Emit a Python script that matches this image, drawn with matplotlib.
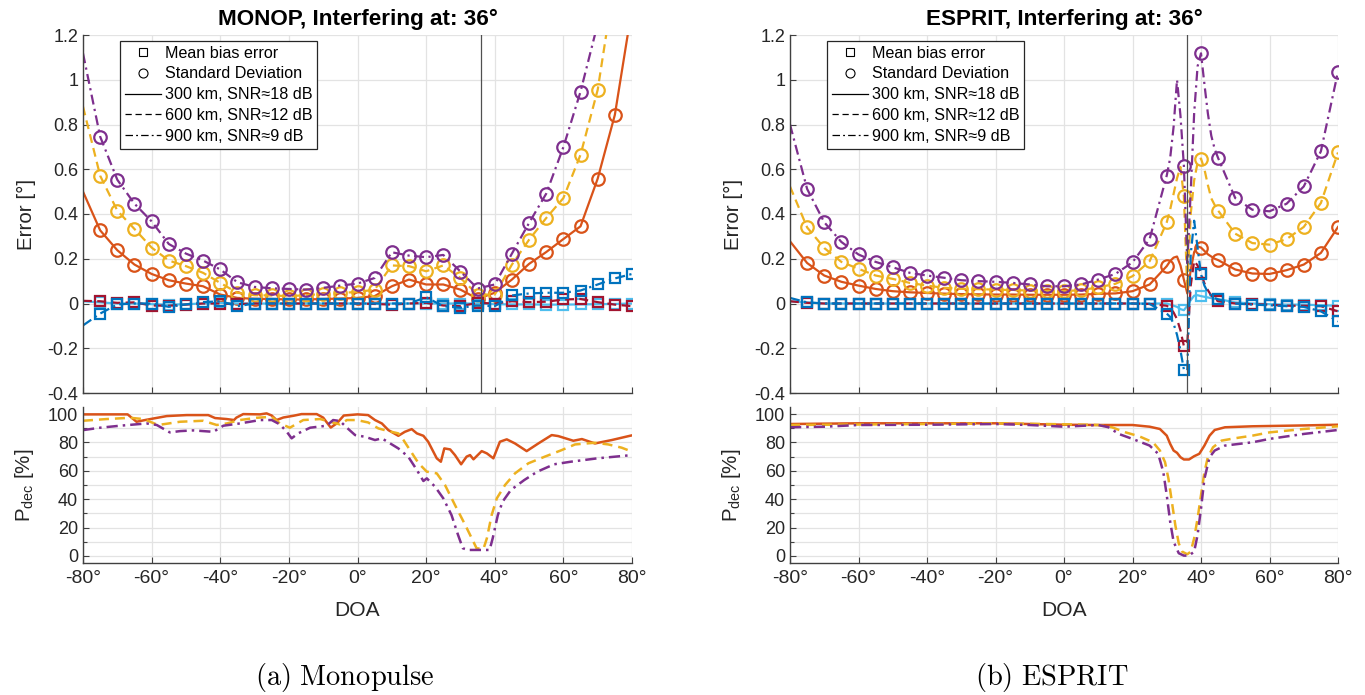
import numpy as np
import matplotlib
matplotlib.use('Agg')
import matplotlib.pyplot as plt
from matplotlib.lines import Line2D
from matplotlib.ticker import MultipleLocator

plt.rcParams['font.family'] = ['Liberation Sans', 'DejaVu Sans']
plt.rcParams['mathtext.fontset'] = 'custom'
plt.rcParams['mathtext.rm'] = 'Liberation Sans'
plt.rcParams['mathtext.it'] = 'Liberation Sans:italic'

# ---------------- data ----------------
interferer_deg = 36
labels_dist = ['300 km, SNR\u224818 dB', '600 km, SNR\u224812 dB', '900 km, SNR\u22489 dB']

# MONOP (top) : DOA grid
mono_doa = np.arange(-80, 81, 5)
mono_std_300 = [0.50, 0.327, 0.238, 0.174, 0.132, 0.104, 0.089, 0.077, 0.040, 0.025, 0.021, 0.020, 0.018,
                0.018, 0.020, 0.022, 0.025, 0.033, 0.077, 0.107, 0.085, 0.085, 0.062, 0.021, 0.048, 0.107,
                0.177, 0.230, 0.288, 0.345, 0.558, 0.843, 1.32]
mono_std_600 = [0.88, 0.571, 0.415, 0.333, 0.250, 0.192, 0.167, 0.137, 0.092, 0.048, 0.037, 0.036, 0.033,
                0.037, 0.043, 0.048, 0.051, 0.062, 0.170, 0.167, 0.144, 0.170, 0.114, 0.040, 0.040, 0.174,
                0.285, 0.382, 0.471, 0.665, 0.955, 1.45, 2.0]
mono_std_900 = [1.118, 0.746, 0.553, 0.446, 0.367, 0.266, 0.223, 0.192, 0.152, 0.095, 0.074, 0.068, 0.065,
                0.062, 0.070, 0.080, 0.089, 0.114, 0.229, 0.214, 0.207, 0.217, 0.143, 0.067, 0.085, 0.223,
                0.360, 0.491, 0.699, 0.947, 1.25, 1.75, 2.3]
mono_bias_300 = [0.010, 0.005, 0.0, 0.0, -0.003, -0.005, -0.003, 0.0, 0.003, 0.0, 0.0, 0.0, 0.0,
                 0.0, 0.0, 0.0, 0.0, 0.0, 0.0, 0.0, 0.0, 0.0, 0.0, 0.0, -0.003, -0.004,
                 -0.004, -0.005, -0.005, -0.004, -0.003, -0.002, 0.0]
mono_bias_600 = [0.012, 0.010, 0.003, 0.005, -0.009, -0.010, -0.005, 0.0, 0.0, -0.003, 0.0, 0.0, 0.0,
                 0.0, 0.0, 0.0, 0.0, -0.002, -0.005, 0.0, 0.003, -0.009, -0.012, 0.003, 0.0, 0.010,
                 0.006, 0.008, 0.018, 0.020, 0.006, -0.005, -0.012]
mono_bias_900 = [-0.098, -0.045, -0.004, 0.0, 0.0, -0.015, -0.004, 0.006, 0.010, -0.012, 0.0, 0.0, 0.0,
                 0.0, 0.0, 0.0, 0.0, 0.0, 0.0, 0.0, 0.028, -0.012, -0.019, -0.009, -0.012, 0.036,
                 0.045, 0.048, 0.048, 0.058, 0.085, 0.112, 0.132]

# ESPRIT (top) : DOA grid (finer near the interferer)
esp_doa = np.array([-80, -75, -70, -65, -60, -55, -50, -45, -40, -35, -30, -25, -20, -15, -10, -5, 0, 5,
                    10, 15, 20, 25, 30, 31, 32, 33, 34, 35, 36, 37, 38, 39, 40, 41, 42, 43, 44, 45,
                    50, 55, 60, 65, 70, 75, 80])
esp_std_300 = [0.278, 0.181, 0.125, 0.097, 0.080, 0.065, 0.055, 0.050, 0.047, 0.044, 0.042, 0.041, 0.040,
               0.040, 0.039, 0.039, 0.039, 0.040, 0.043, 0.045, 0.055, 0.085,
               0.167, 0.19, 0.205, 0.21, 0.17, 0.107, 0.045, 0.15, 0.23, 0.255, 0.25, 0.235, 0.22, 0.21,
               0.20, 0.194, 0.152, 0.134, 0.132, 0.149, 0.174, 0.226, 0.342]
esp_std_600 = [0.523, 0.340, 0.248, 0.186, 0.155, 0.125, 0.110, 0.092, 0.080, 0.070, 0.066, 0.064, 0.062,
               0.060, 0.058, 0.056, 0.055, 0.060, 0.072, 0.088, 0.122, 0.189,
               0.363, 0.42, 0.49, 0.56, 0.61, 0.479, 0.06, 0.40, 0.55, 0.63, 0.648, 0.60, 0.53, 0.47,
               0.44, 0.415, 0.312, 0.270, 0.263, 0.288, 0.342, 0.449, 0.675]
esp_std_900 = [0.80, 0.512, 0.363, 0.275, 0.219, 0.186, 0.162, 0.137, 0.125, 0.115, 0.104, 0.100, 0.097,
               0.092, 0.085, 0.077, 0.077, 0.085, 0.107, 0.132, 0.184, 0.288,
               0.572, 0.65, 0.79, 1.0, 0.84, 0.616, 0.18, 0.50, 0.85, 1.06, 1.118, 0.98, 0.85, 0.75,
               0.69, 0.65, 0.471, 0.419, 0.412, 0.446, 0.523, 0.680, 1.036]
esp_bias_300 = [0.010, 0.005, 0.0, 0.0, 0.0, 0.0, 0.0, 0.0, 0.0, 0.0, 0.0, 0.0, 0.0,
                0.0, 0.0, 0.0, 0.0, 0.0, 0.0, 0.0, 0.0, 0.0,
                0.0, -0.005, -0.010, -0.015, -0.025, -0.030, -0.010, 0.015, 0.035, 0.037, 0.033, 0.030,
                0.027, 0.024, 0.021, 0.020, 0.005, 0.0, -0.003, -0.005, -0.005, -0.008, -0.010]
esp_bias_600 = [0.010, 0.003, 0.0, 0.0, 0.0, 0.0, 0.0, 0.0, 0.0, 0.0, 0.0, 0.0, 0.0,
                0.0, 0.0, 0.0, 0.0, 0.0, 0.0, 0.0, 0.0, -0.002,
                -0.010, -0.020, -0.040, -0.070, -0.120, -0.190, -0.180, 0.080, 0.190, 0.170, 0.135, 0.090,
                0.060, 0.035, 0.020, 0.010, 0.0, -0.003, -0.005, -0.010, -0.010, -0.012, -0.035]
esp_bias_900 = [0.025, 0.005, 0.0, 0.0, 0.0, 0.0, 0.0, 0.0, 0.0, 0.0, 0.0, 0.0, 0.0,
                0.0, 0.0, 0.0, 0.0, 0.0, 0.0, 0.0, 0.0, -0.002,
                -0.045, -0.060, -0.090, -0.140, -0.210, -0.295, -0.300, 0.220, 0.370, 0.250, 0.130, 0.080,
                0.050, 0.035, 0.025, 0.018, 0.0, -0.005, -0.008, -0.012, -0.015, -0.035, -0.080]

# MONOP (bottom) : detection probability [%]
mono_pd_300_doa = [-80, -67, -64.4, -61.5, -55.6, -49.8, -43.5, -41.5, -38.1, -36, -35.3, -33.3, -28.4,
                   -26.5, -25, -23.6, -21.6, -18.7, -16.3, -11.9, -10, -7.8, -6, -4, 0, 3.1, 5.1, 7.1,
                   9.0, 11.9, 13.8, 15.8, 17.3, 19.2, 20.6, 23.1, 24.3, 25.3, 27, 28.4, 30.2, 31.8, 32.8,
                   33.8, 36.2, 37.7, 39.6, 41.5, 43.5, 45.9, 49.3, 52.7, 56.6, 58.5, 62.9, 65.4, 69.2,
                   74.1, 79.4, 80]
mono_pd_300 = [99.8, 99.8, 94.6, 96, 98.6, 99.3, 99.3, 97.2, 96.5, 95.8, 97.5, 100, 99.8,
               100.5, 99, 95.8, 97.6, 98.8, 100, 100, 97.5, 90.5, 93.5, 99, 99.8, 99.3, 95.8, 93.4,
               88.7, 84.7, 87.5, 89.4, 86.4, 84.7, 80.5, 68.8, 66.4, 75.8, 75.1, 71.1, 64.6, 70, 71.1,
               68.1, 73.9, 72.3, 68.8, 80.5, 82.2, 79.3, 73.9, 79.3, 85.2, 84.5, 81.2, 82.4, 79.3,
               81.7, 84.7, 85]
mono_pd_600_doa = [-80, -73.1, -66.3, -62.4, -58.1, -51.7, -45, -41, -38.1, -34.3, -29.4, -25, -22.6,
                   -19.7, -15.8, -10.9, -8, -5.1, -3.1, -0.2, 3.1, 6.1, 9.0, 11.9, 13.4, 15.3, 17.8,
                   20.2, 23.1, 25.5, 28.4, 31.4, 33.3, 34.7, 36.7, 37.7, 39.1, 40.6, 43, 45.9, 49.8,
                   54.6, 59.5, 63.4, 69.2, 73.1, 77, 80]
mono_pd_600 = [95.3, 96.5, 97.4, 96.5, 92.3, 94.6, 95.3, 92.3, 93.4, 95.8, 97.4, 98.1, 93.4,
               90.4, 95.8, 96.5, 94.6, 92.7, 95.8, 95.8, 94.1, 89.9, 88, 86.4, 81.7, 74.6, 65.3,
               59.4, 58.2, 50, 35.9, 21.8, 12.4, 5.4, 4.9, 12.4, 28.8, 40.6, 50, 58.2, 65.3,
               70, 74.6, 78.6, 79.8, 78.6, 76.3, 73.5]
mono_pd_900_doa = [-80, -75, -69.2, -61.5, -58.5, -54.7, -51.7, -47.9, -42, -39.1, -34.3, -28.4, -25,
                   -22.6, -20.6, -19.2, -17.3, -13.8, -9, -7.1, -5.1, -3.1, -0.7, 2.2, 5.1, 7.1, 11.9,
                   14.8, 17.3, 19.2, 20.2, 22.6, 25, 27.4, 29.3, 30.7, 32.2, 38.5, 39.4, 40.9, 42.3,
                   44.7, 48.6, 52.4, 57.3, 62.1, 69.9, 80]
mono_pd_900 = [88.7, 90.4, 91.8, 93.4, 92.3, 87.1, 88, 88.5, 87.5, 91.8, 93.4, 95.8, 95.8,
               92.7, 87.5, 82.9, 86.4, 90.4, 91.8, 95.8, 95.1, 90.4, 85.2, 84, 81.7, 82.9, 75.8,
               69.9, 60.6, 52.8, 54.7, 48.8, 40.6, 28.8, 14.8, 5.4, 4.2, 4.2, 12.4, 28.8, 38.3,
               46.5, 53.5, 59.4, 64.6, 66.4, 68.8, 71.1]

# ESPRIT (bottom) : detection probability [%]
esp_pd_300_doa = [-80, -60, -20, 0, 10, 20, 25, 28, 30, 31, 32, 33, 34, 35, 36.5, 38, 39.5, 41, 42.5,
                  44, 47, 55, 60, 70, 80]
esp_pd_300 = [93, 93.5, 93.5, 92.5, 92.3, 92.3, 91.1, 89.5, 84.8, 79, 74.3, 72.7, 69.6, 68, 68, 70.3,
              72, 77.8, 84.8, 88.8, 90.7, 91.4, 91.6, 92, 92.5]
esp_pd_600_doa = [-80, -40, -20, 0, 10, 14, 18, 22, 26, 28, 29.5, 30.5, 31.5, 32.5, 33.5, 34.5, 36, 37,
                  38, 39, 40, 41, 42, 43.5, 46, 50, 55, 60, 70, 80]
esp_pd_600 = [92.3, 93, 93.5, 92.8, 92.3, 90.7, 87.1, 84.3, 80.1, 74.3, 66.1, 54.4, 38.1, 21.7, 8.9, 3,
              1.2, 3, 12.4, 26.4, 42.8, 59.1, 69.6, 76.6, 81.3, 83, 84.8, 87.1, 89.5, 91.4]
esp_pd_900_doa = [-80, -70, -60, -40, -20, -10, 0, 10, 13, 16, 20, 25, 27.5, 29, 30, 31, 32, 33.5, 35,
                  36.5, 38, 39, 40, 41, 42.5, 44, 47, 55, 60, 70, 80]
esp_pd_900 = [90.7, 91.1, 92.3, 92.5, 93, 92.3, 91.1, 92.3, 90.7, 86, 82.5, 77.8, 72, 59.1, 42.8, 24.1,
              10, 1.9, 0.2, 0.2, 3, 14.7, 33.4, 54.4, 69.6, 74.3, 77.8, 80.1, 82.5, 86, 88.8]

# ---------------- style ----------------
C_OR, C_YE, C_PU = '#D95319', '#EDB120', '#7E2F8E'
C_LB, C_RD, C_BL = '#4DBEEE', '#A2142F', '#0072BD'
STY = ['-', (0, (4, 2.4)), (0, (4.5, 2, 1, 2))]
AX_COL = '#404040'
TXT_COL = '#262626'
GRID_COL = '#e3e3e3'
YTICK_FS = 13
XTICK_FS = 14
LAB_FS = 14.8

fig = plt.figure(figsize=(13.65, 6.95), dpi=100)
W, H = 1365.0, 695.0


def pos(x0, y0, x1, y1):
    return [x0 / W, 1 - y1 / H, (x1 - x0) / W, (y1 - y0) / H]


def style_axes(ax):
    for s in ['top', 'right']:
        ax.spines[s].set_visible(False)
    for s in ['left', 'bottom']:
        ax.spines[s].set_color(AX_COL)
        ax.spines[s].set_linewidth(1.0)
    ax.tick_params(which='both', direction='in', colors=AX_COL, labelcolor=TXT_COL,
                   length=4.5, width=0.8)
    ax.tick_params(axis='y', labelsize=YTICK_FS)
    ax.tick_params(axis='x', labelsize=XTICK_FS, pad=5)
    ax.tick_params(which='minor', length=3)
    ax.set_axisbelow(True)
    ax.grid(True, which='major', color=GRID_COL, lw=0.9)
    ax.set_xlim(-80, 80)
    ax.set_xticks(np.arange(-80, 81, 20))


def marker_mask(x):
    x = np.asarray(x, dtype=float)
    return list(np.where(np.isclose(np.mod(x, 5), 0) & (x >= -75))[0])


def top_panel(ax, x, stds, biases, title):
    style_axes(ax)
    m = marker_mask(x)
    for y, c, ls in zip(stds, [C_OR, C_YE, C_PU], STY):
        ax.plot(x, y, ls=ls, color=c, lw=1.6, marker='o', ms=9, mfc='none', mew=1.6, markevery=m)
    for y, c, ls in zip(biases, [C_LB, C_RD, C_BL], STY):
        ax.plot(x, y, ls=ls, color=c, lw=1.6, marker='s', ms=7.5, mfc='none', mew=1.6, markevery=m)
    ax.axvline(interferer_deg, color='#505050', lw=0.9)
    ax.set_ylim(-0.4, 1.2)
    yt = np.round(np.arange(-0.4, 1.21, 0.2), 1)
    ax.set_yticks(yt)
    ax.set_yticklabels(['%g' % v for v in yt])
    ax.set_xticklabels([])
    ax.set_title(title, fontsize=16.2, fontweight='bold', color='black', pad=7)
    ax.set_ylabel('Error [\u00b0]', fontsize=LAB_FS, color=TXT_COL)
    ax.yaxis.set_label_coords(-0.085, 0.5)
    handles = [Line2D([], [], ls='none', marker='s', color='k', mfc='none', ms=5.5, mew=0.8),
               Line2D([], [], ls='none', marker='o', color='k', mfc='none', ms=6.5, mew=0.8),
               Line2D([], [], ls='-', color='k', lw=0.9),
               Line2D([], [], ls=(0, (5, 3)), color='k', lw=0.9),
               Line2D([], [], ls=(0, (6, 2.5, 1.5, 2.5)), color='k', lw=0.9)]
    labels = ['Mean bias error', 'Standard Deviation'] + labels_dist
    leg = ax.legend(handles, labels, loc='upper left', bbox_to_anchor=(0.067, 0.984),
                    borderaxespad=0, fontsize=11.6, frameon=True, fancybox=False,
                    edgecolor=TXT_COL, framealpha=1, handlelength=2.25, handletextpad=0.25,
                    labelspacing=0.36, borderpad=0.3)
    leg.get_frame().set_linewidth(0.9)


def bottom_panel(ax, series):
    style_axes(ax)
    for (x, y), c, ls in zip(series, [C_OR, C_YE, C_PU], STY):
        ax.plot(x, y, ls=ls, color=c, lw=1.8)
    ax.set_ylim(-5, 105)
    ax.set_yticks(np.arange(0, 101, 20))
    ax.yaxis.set_minor_locator(MultipleLocator(10))
    ax.grid(True, which='minor', axis='y', color=GRID_COL, lw=0.9)
    ax.set_xticklabels(['%d\u00b0' % v for v in np.arange(-80, 81, 20)])
    ax.set_xlabel('DOA', fontsize=LAB_FS + 0.3, color=TXT_COL, labelpad=10)
    ax.set_ylabel(r'P$_{\mathrm{dec}}$ [%]', fontsize=LAB_FS, color=TXT_COL)
    ax.yaxis.set_label_coords(-0.085, 0.5)


axL = fig.add_axes(pos(83, 35, 632, 393))
axLb = fig.add_axes(pos(83, 407, 632, 563))
axR = fig.add_axes(pos(790, 35, 1338, 393))
axRb = fig.add_axes(pos(790, 407, 1338, 563))

top_panel(axL, mono_doa, [mono_std_300, mono_std_600, mono_std_900],
          [mono_bias_300, mono_bias_600, mono_bias_900], 'MONOP, Interfering at: 36\u00b0')
top_panel(axR, esp_doa, [esp_std_300, esp_std_600, esp_std_900],
          [esp_bias_300, esp_bias_600, esp_bias_900], 'ESPRIT, Interfering at: 36\u00b0')
bottom_panel(axLb, [(mono_pd_300_doa, mono_pd_300), (mono_pd_600_doa, mono_pd_600),
                    (mono_pd_900_doa, mono_pd_900)])
bottom_panel(axRb, [(esp_pd_300_doa, esp_pd_300), (esp_pd_600_doa, esp_pd_600),
                    (esp_pd_900_doa, esp_pd_900)])

fig.text(345 / W, 1 - 677 / H, r'$\mathrm{(a)\ Monopulse}$', math_fontfamily='cm',
         fontsize=20.5, ha='center', va='center')
fig.text(1052 / W, 1 - 677 / H, r'$\mathrm{(b)\ ESPRIT}$', math_fontfamily='cm',
         fontsize=20.5, ha='center', va='center')

fig.savefig('out.png', dpi=100)
